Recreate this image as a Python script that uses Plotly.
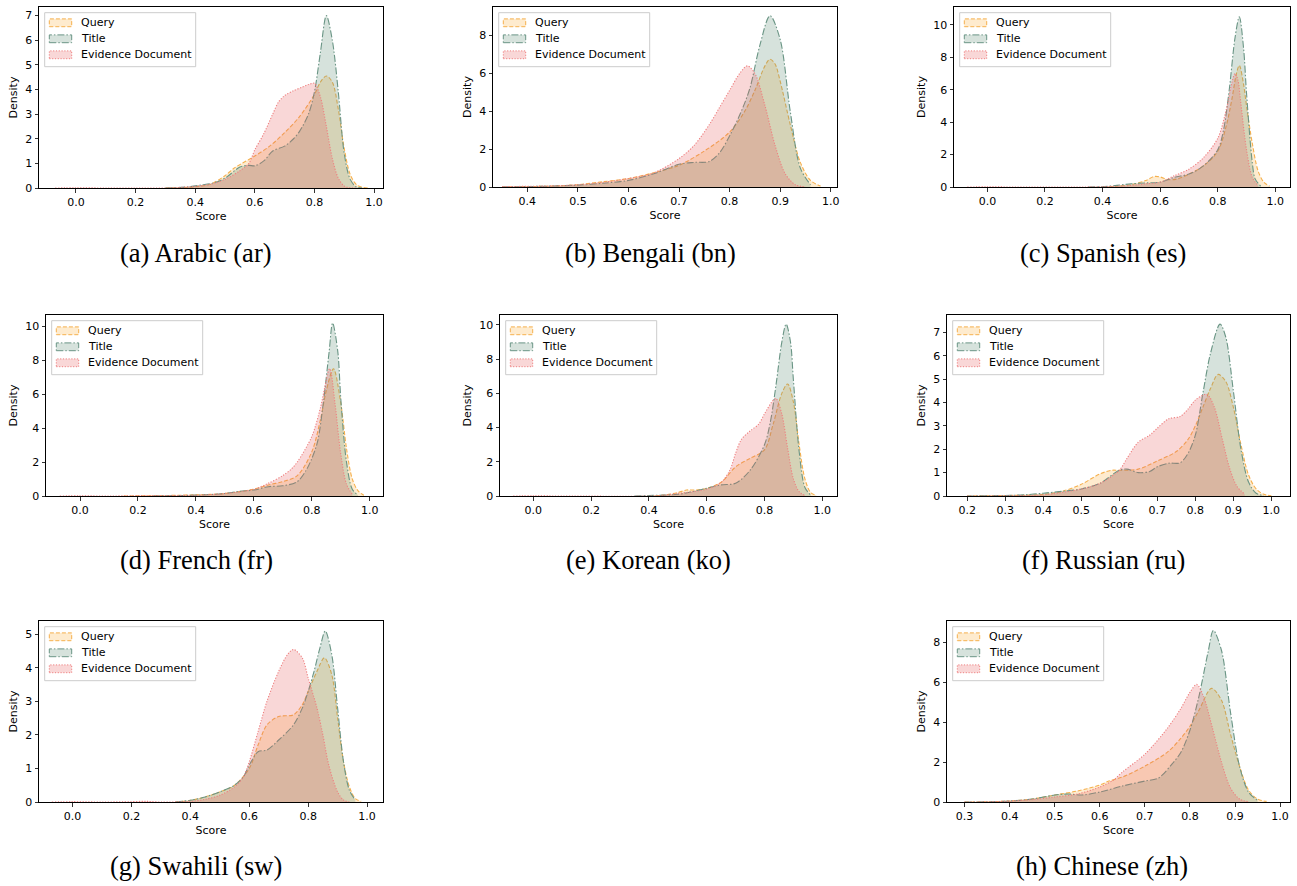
import plotly.graph_objects as go

# ---------------- data ----------------
series_names = ["Query", "Title", "Evidence Document"]

# (a) Arabic
ar_query_x = [0.30, 0.40, 0.45, 0.50, 0.53, 0.55, 0.60, 0.65, 0.70, 0.75, 0.80, 0.82, 0.84, 0.86, 0.88, 0.90, 0.92, 0.94, 0.96, 0.98]
ar_query_y = [0.0, 0.05, 0.15, 0.5, 0.8, 0.95, 1.3, 1.7, 2.25, 2.9, 3.8, 4.3, 4.55, 4.3, 3.2, 1.6, 0.55, 0.15, 0.03, 0.0]
ar_title_x = [0.30, 0.38, 0.42, 0.46, 0.50, 0.55, 0.58, 0.60, 0.63, 0.66, 0.70, 0.73, 0.75, 0.78, 0.80, 0.82, 0.84, 0.86, 0.88, 0.90, 0.92, 0.94, 0.96]
ar_title_y = [0.0, 0.05, 0.12, 0.2, 0.4, 0.85, 0.92, 0.9, 1.1, 1.5, 1.7, 2.0, 2.3, 3.0, 3.9, 5.5, 7.0, 6.0, 3.9, 1.4, 0.35, 0.05, 0.0]
ar_evid_x = [-0.07, 0.0, 0.1, 0.2, 0.3, 0.38, 0.45, 0.50, 0.55, 0.58, 0.60, 0.63, 0.66, 0.68, 0.70, 0.73, 0.76, 0.78, 0.80, 0.82, 0.84, 0.86, 0.88, 0.90, 0.92, 0.94]
ar_evid_y = [0.0, 0.01, 0.0, 0.0, 0.0, 0.05, 0.15, 0.35, 0.7, 1.0, 1.55, 2.2, 3.0, 3.5, 3.75, 3.95, 4.1, 4.2, 4.25, 3.7, 2.5, 1.2, 0.4, 0.08, 0.01, 0.0]

# (b) Bengali
bn_query_x = [0.35, 0.45, 0.50, 0.55, 0.60, 0.65, 0.70, 0.75, 0.80, 0.83, 0.85, 0.87, 0.88, 0.89, 0.90, 0.92, 0.94, 0.96, 0.98]
bn_query_y = [0.0, 0.05, 0.12, 0.28, 0.45, 0.75, 1.15, 1.9, 2.9, 4.0, 5.1, 6.4, 6.75, 6.5, 5.6, 3.3, 1.3, 0.35, 0.05]
bn_title_x = [0.35, 0.45, 0.50, 0.55, 0.60, 0.65, 0.70, 0.73, 0.76, 0.78, 0.80, 0.82, 0.84, 0.86, 0.88, 0.90, 0.92, 0.94, 0.96]
bn_title_y = [0.0, 0.05, 0.1, 0.2, 0.35, 0.7, 1.2, 1.3, 1.35, 1.8, 2.7, 3.8, 5.2, 7.5, 9.05, 7.8, 4.0, 1.0, 0.12]
bn_evid_x = [0.35, 0.45, 0.50, 0.55, 0.60, 0.65, 0.70, 0.73, 0.76, 0.78, 0.80, 0.82, 0.835, 0.85, 0.87, 0.89, 0.91, 0.93, 0.95]
bn_evid_y = [0.02, 0.06, 0.12, 0.25, 0.45, 0.75, 1.5, 2.2, 3.3, 4.2, 5.1, 6.0, 6.4, 6.0, 4.3, 2.2, 0.7, 0.12, 0.01]

# (c) Spanish
es_query_x = [0.40, 0.45, 0.50, 0.55, 0.58, 0.60, 0.63, 0.66, 0.70, 0.75, 0.80, 0.83, 0.85, 0.865, 0.875, 0.89, 0.90, 0.92, 0.94, 0.96, 0.98]
es_query_y = [0.0, 0.05, 0.15, 0.4, 0.65, 0.62, 0.45, 0.5, 0.8, 1.3, 2.2, 3.8, 5.5, 7.0, 7.5, 6.3, 5.0, 2.7, 1.0, 0.3, 0.05]
es_title_x = [0.35, 0.40, 0.45, 0.50, 0.55, 0.60, 0.65, 0.70, 0.75, 0.80, 0.82, 0.84, 0.86, 0.875, 0.89, 0.90, 0.92, 0.93, 0.95]
es_title_y = [0.0, 0.02, 0.1, 0.2, 0.25, 0.3, 0.6, 0.8, 1.3, 2.3, 3.5, 6.0, 9.2, 10.5, 8.5, 5.8, 1.5, 0.5, 0.03]
es_evid_x = [-0.07, 0.0, 0.1, 0.3, 0.40, 0.50, 0.55, 0.60, 0.65, 0.70, 0.75, 0.80, 0.83, 0.85, 0.86, 0.87, 0.88, 0.90, 0.92, 0.94]
es_evid_y = [0.0, 0.01, 0.0, 0.0, 0.02, 0.1, 0.2, 0.3, 0.7, 1.1, 1.8, 3.0, 4.8, 6.5, 7.0, 6.6, 5.2, 2.3, 0.6, 0.08]

# (d) French
fr_query_x = [0.15, 0.30, 0.40, 0.50, 0.60, 0.65, 0.70, 0.75, 0.80, 0.83, 0.85, 0.875, 0.90, 0.92, 0.94, 0.96, 0.98]
fr_query_y = [0.0, 0.03, 0.07, 0.15, 0.4, 0.65, 0.85, 1.2, 2.6, 4.5, 6.2, 7.5, 5.5, 2.8, 1.0, 0.3, 0.05]
fr_title_x = [0.25, 0.40, 0.50, 0.55, 0.60, 0.65, 0.70, 0.75, 0.78, 0.80, 0.82, 0.84, 0.86, 0.872, 0.89, 0.90, 0.92, 0.94, 0.96]
fr_title_y = [0.0, 0.05, 0.15, 0.28, 0.35, 0.55, 0.6, 0.85, 1.5, 2.2, 3.2, 5.5, 8.5, 10.2, 8.5, 5.8, 2.0, 0.4, 0.05]
fr_evid_x = [-0.07, 0.0, 0.1, 0.2, 0.4, 0.5, 0.6, 0.65, 0.7, 0.73, 0.75, 0.80, 0.83, 0.862, 0.88, 0.9, 0.92, 0.94]
fr_evid_y = [0.0, 0.01, 0.0, 0.02, 0.05, 0.15, 0.4, 0.75, 1.2, 1.6, 2.0, 3.5, 5.2, 7.5, 5.5, 2.5, 0.7, 0.1]

# (e) Korean
ko_query_x = [0.40, 0.45, 0.50, 0.53, 0.56, 0.60, 0.65, 0.70, 0.75, 0.80, 0.83, 0.86, 0.88, 0.90, 0.92, 0.94, 0.96, 0.98]
ko_query_y = [0.0, 0.05, 0.2, 0.35, 0.35, 0.45, 0.8, 1.7, 2.2, 2.7, 4.2, 6.0, 6.55, 5.5, 3.0, 1.0, 0.2, 0.03]
ko_title_x = [0.35, 0.40, 0.50, 0.55, 0.60, 0.65, 0.70, 0.75, 0.80, 0.82, 0.84, 0.86, 0.875, 0.89, 0.90, 0.92, 0.94, 0.96]
ko_title_y = [0.0, 0.03, 0.1, 0.25, 0.45, 0.65, 0.75, 1.5, 3.0, 4.3, 6.5, 9.0, 10.05, 9.0, 6.8, 2.6, 0.5, 0.05]
ko_evid_x = [-0.07, 0.0, 0.1, 0.4, 0.45, 0.50, 0.55, 0.60, 0.65, 0.68, 0.70, 0.72, 0.75, 0.78, 0.80, 0.83, 0.84, 0.86, 0.88, 0.90, 0.92, 0.94]
ko_evid_y = [0.0, 0.01, 0.0, 0.0, 0.05, 0.15, 0.25, 0.4, 0.8, 1.5, 2.5, 3.3, 3.8, 4.2, 4.8, 5.6, 5.7, 4.8, 2.8, 1.0, 0.25, 0.03]

# (f) Russian
ru_query_x = [0.20, 0.30, 0.40, 0.45, 0.50, 0.55, 0.58, 0.60, 0.65, 0.70, 0.75, 0.78, 0.80, 0.82, 0.84, 0.86, 0.88, 0.90, 0.92, 0.94, 0.96, 0.98, 1.00]
ru_query_y = [0.0, 0.02, 0.07, 0.2, 0.5, 0.95, 1.1, 1.1, 1.15, 1.5, 1.9, 2.4, 3.0, 3.8, 4.6, 5.2, 4.9, 3.8, 2.2, 0.9, 0.3, 0.07, 0.01]
ru_title_x = [0.20, 0.30, 0.35, 0.40, 0.45, 0.50, 0.55, 0.60, 0.62, 0.65, 0.68, 0.70, 0.73, 0.76, 0.78, 0.80, 0.82, 0.84, 0.865, 0.88, 0.90, 0.92, 0.94, 0.96, 0.98]
ru_title_y = [0.0, 0.02, 0.05, 0.12, 0.2, 0.3, 0.55, 1.1, 1.15, 1.0, 1.05, 1.25, 1.4, 1.42, 1.8, 2.6, 4.4, 6.1, 7.35, 6.8, 4.5, 2.0, 0.6, 0.12, 0.02]
ru_evid_x = [0.20, 0.30, 0.40, 0.50, 0.55, 0.60, 0.62, 0.65, 0.68, 0.70, 0.73, 0.76, 0.78, 0.80, 0.83, 0.85, 0.87, 0.89, 0.91, 0.93]
ru_evid_y = [0.0, 0.01, 0.05, 0.3, 0.55, 1.1, 1.6, 2.3, 2.6, 2.9, 3.3, 3.4, 3.7, 4.1, 4.35, 3.8, 2.5, 1.2, 0.4, 0.08]

# (g) Swahili
sw_query_x = [0.35, 0.40, 0.45, 0.50, 0.55, 0.60, 0.63, 0.66, 0.70, 0.75, 0.78, 0.80, 0.83, 0.855, 0.88, 0.90, 0.92, 0.94, 0.96, 0.98]
sw_query_y = [0.0, 0.05, 0.15, 0.3, 0.5, 1.0, 1.7, 2.3, 2.55, 2.6, 2.9, 3.3, 3.9, 4.3, 3.8, 2.5, 1.2, 0.45, 0.1, 0.02]
sw_title_x = [0.35, 0.40, 0.45, 0.50, 0.55, 0.58, 0.60, 0.63, 0.66, 0.70, 0.75, 0.78, 0.80, 0.82, 0.84, 0.858, 0.88, 0.90, 0.92, 0.94, 0.96]
sw_title_y = [0.0, 0.05, 0.15, 0.3, 0.5, 0.75, 1.1, 1.5, 1.55, 1.85, 2.3, 2.8, 3.3, 3.9, 4.6, 5.1, 4.4, 2.8, 1.2, 0.35, 0.06]
sw_evid_x = [-0.07, 0.0, 0.1, 0.2, 0.25, 0.3, 0.40, 0.45, 0.50, 0.55, 0.58, 0.60, 0.63, 0.66, 0.70, 0.73, 0.75, 0.78, 0.80, 0.83, 0.85, 0.87, 0.90, 0.92, 0.94]
sw_evid_y = [0.0, 0.01, 0.0, 0.01, 0.02, 0.0, 0.02, 0.08, 0.2, 0.45, 0.75, 1.2, 2.1, 3.0, 3.9, 4.4, 4.55, 4.3, 3.7, 2.8, 2.0, 1.1, 0.3, 0.06, 0.0]

# (h) Chinese
zh_query_x = [0.30, 0.35, 0.40, 0.45, 0.50, 0.55, 0.60, 0.62, 0.65, 0.70, 0.75, 0.78, 0.80, 0.82, 0.848, 0.87, 0.89, 0.91, 0.93, 0.95, 0.97]
zh_query_y = [0.0, 0.01, 0.05, 0.15, 0.35, 0.55, 0.85, 1.05, 1.25, 1.8, 2.5, 3.2, 3.8, 4.6, 5.7, 5.1, 3.4, 1.8, 0.6, 0.15, 0.03]
zh_title_x = [0.30, 0.35, 0.40, 0.45, 0.50, 0.53, 0.56, 0.60, 0.65, 0.70, 0.73, 0.76, 0.78, 0.80, 0.82, 0.84, 0.852, 0.87, 0.89, 0.91, 0.93, 0.95]
zh_title_y = [0.0, 0.01, 0.05, 0.15, 0.35, 0.4, 0.35, 0.5, 0.8, 1.05, 1.2, 1.9, 2.5, 3.6, 5.3, 7.5, 8.6, 7.6, 4.5, 1.8, 0.5, 0.08]
zh_evid_x = [0.30, 0.35, 0.40, 0.45, 0.50, 0.55, 0.60, 0.63, 0.65, 0.70, 0.75, 0.78, 0.80, 0.815, 0.83, 0.85, 0.87, 0.89, 0.91, 0.93]
zh_evid_y = [0.0, 0.01, 0.05, 0.12, 0.25, 0.4, 0.75, 1.1, 1.5, 2.4, 3.7, 4.7, 5.5, 5.9, 5.3, 3.7, 2.0, 0.7, 0.15, 0.02]

captions = ["(a) Arabic (ar)", "(b) Bengali (bn)", "(c) Spanish (es)", "(d) French (fr)",
            "(e) Korean (ko)", "(f) Russian (ru)", "(g) Swahili (sw)", "(h) Chinese (zh)"]

panel_data = [
    [(ar_query_x, ar_query_y), (ar_title_x, ar_title_y), (ar_evid_x, ar_evid_y)],
    [(bn_query_x, bn_query_y), (bn_title_x, bn_title_y), (bn_evid_x, bn_evid_y)],
    [(es_query_x, es_query_y), (es_title_x, es_title_y), (es_evid_x, es_evid_y)],
    [(fr_query_x, fr_query_y), (fr_title_x, fr_title_y), (fr_evid_x, fr_evid_y)],
    [(ko_query_x, ko_query_y), (ko_title_x, ko_title_y), (ko_evid_x, ko_evid_y)],
    [(ru_query_x, ru_query_y), (ru_title_x, ru_title_y), (ru_evid_x, ru_evid_y)],
    [(sw_query_x, sw_query_y), (sw_title_x, sw_title_y), (sw_evid_x, sw_evid_y)],
    [(zh_query_x, zh_query_y), (zh_title_x, zh_title_y), (zh_evid_x, zh_evid_y)],
]

# ---------------- layout / style ----------------
W, H = 1297, 886


def px(xp):
    return xp / W


def py(yp):
    return 1 - yp / H


# pixel boxes on the page (x0, x1, y0, y1), axis ranges, tick steps, caption centre
panels = [
    dict(box=(39, 383, 7, 188), xr=(-0.124, 1.03), yr=(0, 7.35), xd=0.2, yd=1, cap=(196, 253)),
    dict(box=(493, 837, 7, 187), xr=(0.332, 1.0125), yr=(0, 9.51), xd=0.1, yd=2, cap=(650, 253)),
    dict(box=(954, 1290, 7, 187), xr=(-0.116, 1.051), yr=(0, 11.1), xd=0.2, yd=2, cap=(1103, 253)),
    dict(box=(46, 383, 315, 496), xr=(-0.1175, 1.046), yr=(0, 10.67), xd=0.2, yd=2, cap=(196, 560)),
    dict(box=(500, 837, 315, 496), xr=(-0.1155, 1.051), yr=(0, 10.58), xd=0.2, yd=2, cap=(648, 560)),
    dict(box=(947, 1290, 315, 496), xr=(0.147, 1.049), yr=(0, 7.74), xd=0.1, yd=1, cap=(1103, 560)),
    dict(box=(39, 383, 621, 802), xr=(-0.1136, 1.054), yr=(0, 5.40), xd=0.2, yd=1, cap=(196, 866)),
    dict(box=(947, 1290, 621, 802), xr=(0.261, 1.022), yr=(0, 9.08), xd=0.1, yd=2, cap=(1102, 866)),
]

line_colors = ["#F5B04E", "#6A9585", "#EE8080"]
fill_colors = ["rgba(250,176,60,0.25)", "rgba(90,140,115,0.25)", "rgba(230,95,95,0.25)"]
dashes = ["4px,2px", "7px,2px,1.5px,2px", "1.2px,1.6px"]

tick_font = dict(family="DejaVu Sans", size=11, color="#000000")
legend_font = dict(family="DejaVu Sans", size=11, color="#000000")

fig = go.Figure()
layout = dict(
    width=W, height=H, margin=dict(l=0, r=0, t=0, b=0, autoexpand=False),
    paper_bgcolor="white", plot_bgcolor="white", showlegend=False,
    font=dict(family="DejaVu Sans", size=11, color="#000000"),
)
annotations = []
shapes = []

for i, (p, data) in enumerate(zip(panels, panel_data)):
    k = i + 1
    xa = "x" if k == 1 else f"x{k}"
    ya = "y" if k == 1 else f"y{k}"
    for j, (xs, ys) in enumerate(data):
        fig.add_trace(go.Scatter(
            x=xs, y=ys, mode="lines", name=series_names[j],
            line=dict(color=line_colors[j], width=1.1, dash=dashes[j], shape="spline", smoothing=0.9),
            fill="tozeroy", fillcolor=fill_colors[j],
            xaxis=xa, yaxis=ya, hoverinfo="skip", showlegend=False,
        ))
    x0, x1, y0, y1 = p["box"]
    axcommon = dict(showline=True, mirror=True, linecolor="#000000", linewidth=1,
                    ticks="outside", ticklen=3.5, tickwidth=0.8, tickcolor="#000000",
                    showgrid=False, zeroline=False, tickfont=tick_font, automargin=False)
    layout["xaxis" if k == 1 else f"xaxis{k}"] = dict(
        domain=[px(x0), px(x1)], anchor=ya, range=list(p["xr"]), dtick=p["xd"], tick0=0,
        tickformat=".1f", title=dict(text="Score", font=dict(size=11), standoff=4), **axcommon)
    layout["yaxis" if k == 1 else f"yaxis{k}"] = dict(
        domain=[py(y1), py(y0)], anchor=xa, range=list(p["yr"]), dtick=p["yd"], tick0=0,
        title=dict(text="Density", font=dict(size=11), standoff=5), **axcommon)

    # legend box (matplotlib style): frame, three patches, three labels
    bx, by = x0 + 5.7, y0 + 5.7
    shapes.append(dict(type="rect", xref="paper", yref="paper",
                       x0=px(bx), x1=px(bx + 151), y0=py(by + 54), y1=py(by),
                       line=dict(color="#CCCCCC", width=1), fillcolor="rgba(255,255,255,0.8)",
                       layer="above"))
    for j in range(3):
        cy = by + 10.1 + 16.0 * j
        shapes.append(dict(type="rect", xref="paper", yref="paper",
                           x0=px(bx + 4.6), x1=px(bx + 27), y0=py(cy + 3.9), y1=py(cy - 3.9),
                           line=dict(color=line_colors[j], width=1, dash=dashes[j]),
                           fillcolor=fill_colors[j], layer="above"))
        annotations.append(dict(
            text=series_names[j], x=px(bx + 34), y=py(cy), xref="paper", yref="paper",
            xanchor="left", yanchor="middle", showarrow=False, font=legend_font))

    cx, cy = p["cap"]
    annotations.append(dict(
        text=captions[i], x=px(cx), y=py(cy), xref="paper", yref="paper",
        xanchor="center", yanchor="middle", showarrow=False,
        font=dict(family="Liberation Serif", size=26.5, color="#000000"),
    ))

layout["annotations"] = annotations
layout["shapes"] = shapes
fig.update_layout(**layout)
fig.write_html(
    "out.html",
    config={"displayModeBar": False, "staticPlot": True},
    post_script="document.body.style.margin='0';document.body.style.overflow='hidden';",
)
